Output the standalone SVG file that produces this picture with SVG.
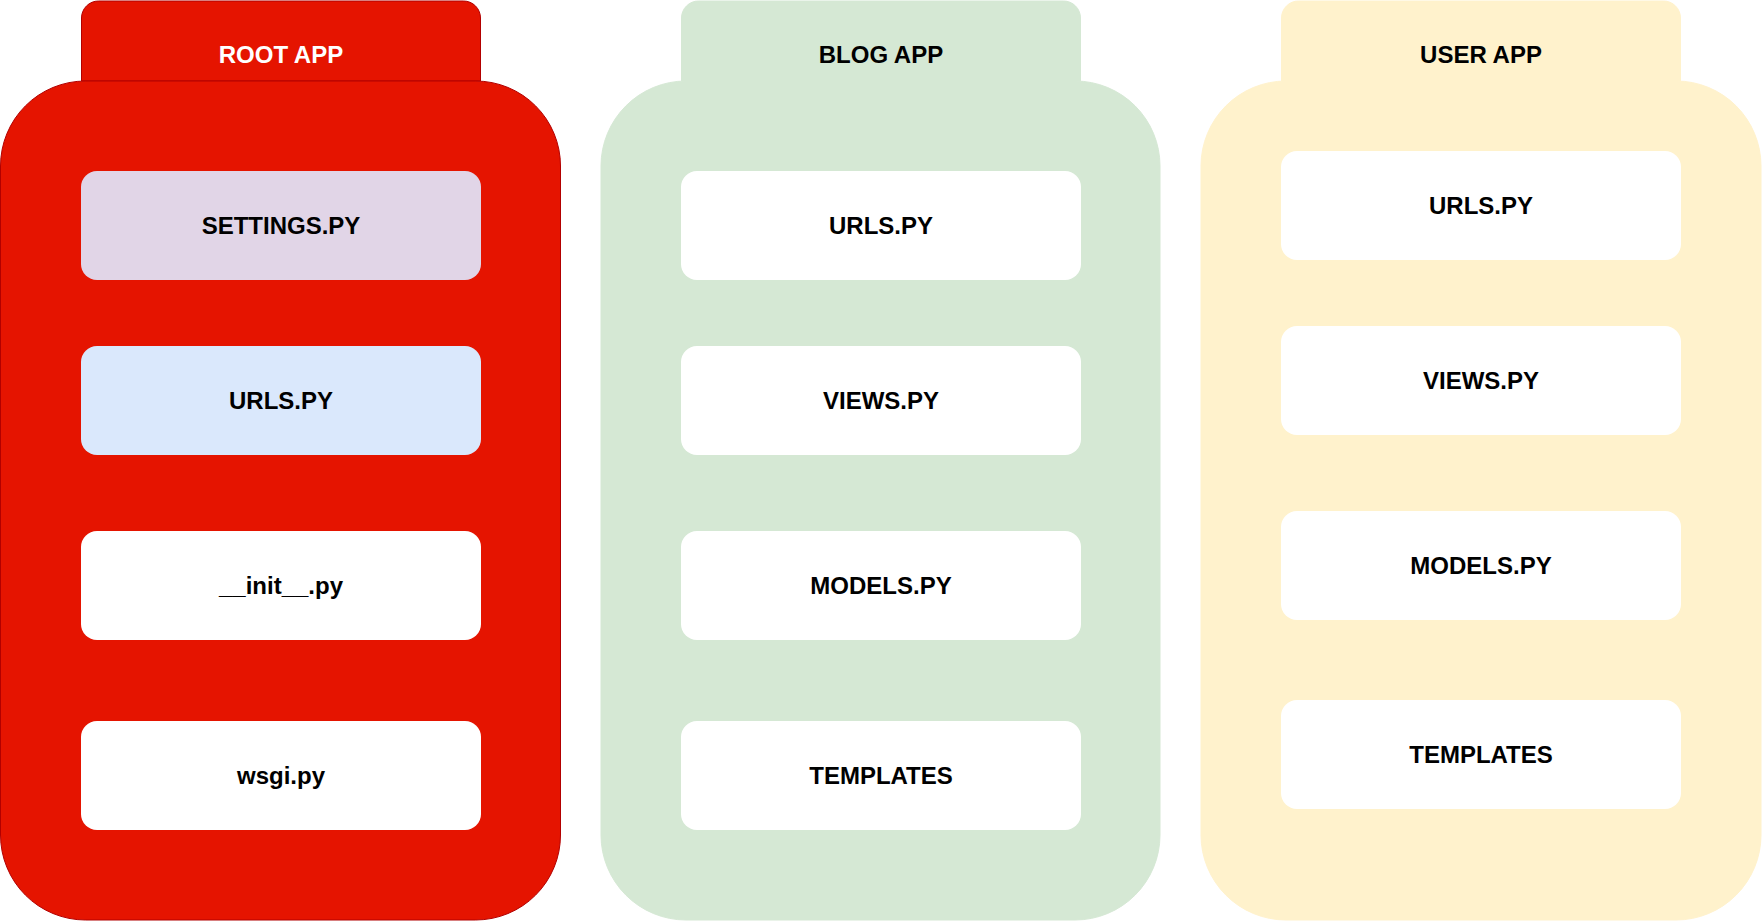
<svg xmlns="http://www.w3.org/2000/svg" width="1762" height="921" viewBox="0 0 1762 921">
<style>
text{font-family:"Liberation Sans",Arial,sans-serif;font-weight:bold;font-size:24px;text-anchor:middle;fill:#000}
.root{fill:#e51400;stroke:#b20000;stroke-width:1}
.blog{fill:#d5e8d4;stroke:#d5e8d4;stroke-width:1}
.user{fill:#fff2cc;stroke:#fff2cc;stroke-width:1}
.box{fill:#ffffff}
.set{fill:#e1d5e7}
.url{fill:#dae8fc}
.title-w{fill:#ffffff}
</style>
<g id="root-app">
<path class="root" d="M81.5 81 V18 A17 17 0 0 1 98.5 1 H463.5 A17 17 0 0 1 480.5 18 V81 Z"/>
<rect class="root" x="0.5" y="81" width="560" height="839" rx="85" ry="85"/>
<text class="title-w" x="281" y="63">ROOT APP</text>
</g>
<g id="root-settings"><rect class="set" x="81" y="171" width="400" height="109" rx="16"/><text x="281" y="234">SETTINGS.PY</text></g>
<g id="root-urls"><rect class="url" x="81" y="346" width="400" height="109" rx="16"/><text x="281" y="409">URLS.PY</text></g>
<g id="root-init"><rect class="box" x="81" y="531" width="400" height="109" rx="16"/><text x="281" y="594">__init__.py</text></g>
<g id="root-wsgi"><rect class="box" x="81" y="721" width="400" height="109" rx="16"/><text x="281" y="784">wsgi.py</text></g>

<g id="blog-app">
<path class="blog" d="M681.5 81 V18 A17 17 0 0 1 698.5 1 H1063.5 A17 17 0 0 1 1080.5 18 V81 Z"/>
<rect class="blog" x="601" y="81" width="559" height="839" rx="85" ry="85"/>
<text x="881" y="63">BLOG APP</text>
</g>
<g id="blog-urls"><rect class="box" x="681" y="171" width="400" height="109" rx="16"/><text x="881" y="234">URLS.PY</text></g>
<g id="blog-views"><rect class="box" x="681" y="346" width="400" height="109" rx="16"/><text x="881" y="409">VIEWS.PY</text></g>
<g id="blog-models"><rect class="box" x="681" y="531" width="400" height="109" rx="16"/><text x="881" y="594">MODELS.PY</text></g>
<g id="blog-templates"><rect class="box" x="681" y="721" width="400" height="109" rx="16"/><text x="881" y="784">TEMPLATES</text></g>

<g id="user-app">
<path class="user" d="M1281.5 81 V18 A17 17 0 0 1 1298.5 1 H1663.5 A17 17 0 0 1 1680.5 18 V81 Z"/>
<rect class="user" x="1201" y="81" width="560" height="839" rx="85" ry="85"/>
<text x="1481" y="63">USER APP</text>
</g>
<g id="user-urls"><rect class="box" x="1281" y="151" width="400" height="109" rx="16"/><text x="1481" y="214">URLS.PY</text></g>
<g id="user-views"><rect class="box" x="1281" y="326" width="400" height="109" rx="16"/><text x="1481" y="389">VIEWS.PY</text></g>
<g id="user-models"><rect class="box" x="1281" y="511" width="400" height="109" rx="16"/><text x="1481" y="574">MODELS.PY</text></g>
<g id="user-templates"><rect class="box" x="1281" y="700" width="400" height="109" rx="16"/><text x="1481" y="763">TEMPLATES</text></g>

<g id="connectors"></g>
</svg>
